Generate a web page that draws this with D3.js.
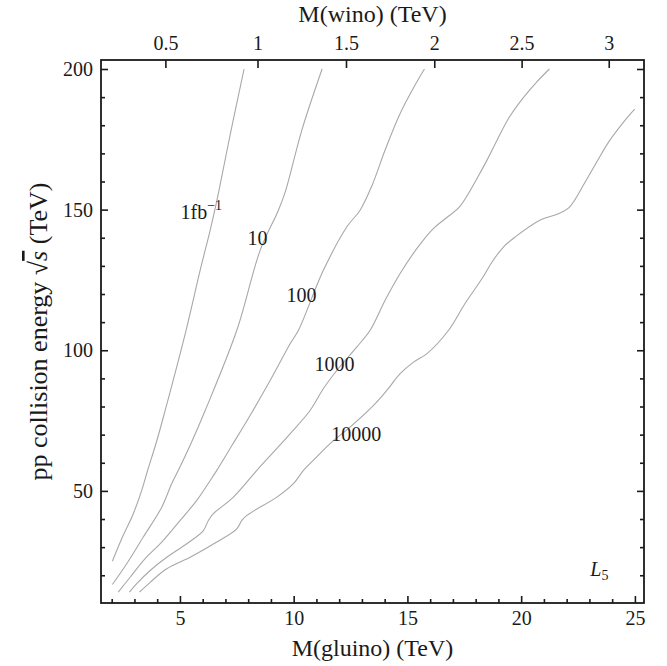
<!DOCTYPE html>
<html>
<head>
<meta charset="utf-8">
<script src="https://cdn.jsdelivr.net/npm/d3@7"></script>
<style>
  body { margin: 0; background: #fff; }
  svg text { font-family: "Liberation Serif", "Times New Roman", serif; fill: #1a1a1a; }
</style>
</head>
<body>
<div id="chart"></div>
<script>

// contour curves: [M(gluino) TeV, sqrt(s) TeV]
const lumi1 = [[2.03,25.0],[2.44,33.0],[2.95,41.9],[3.32,50.2],[3.58,57.3],[3.99,68.0],[4.35,78.6],
    [5.27,107.1],[5.89,128.5],[6.33,142.7],[6.69,155.8],[7.25,178.3],[7.82,200]];
const lumi10 = [[2.03,16.7],[2.66,24.1],[3.39,33.6],[4.20,44.2],[4.64,52.6],[4.93,57.3],[5.45,66.2],
    [6.11,78.6],[7.50,107.1],[8.53,135.6],[9.33,149.8],[9.63,156.3],[10.36,178.3],[11.25,200]];
const lumi100 = [[2.29,14.0],[2.81,19.3],[3.47,25.9],[4.20,31.8],[5.01,39.5],[5.74,46.6],[6.33,53.7],
    [6.62,57.3],[7.29,66.2],[8.09,76.9],[8.97,89.3],[9.85,102.4],[10.21,107.1],[11.31,128.5],
    [12.34,143.9],[12.92,149.8],[13.45,158.7],[14.02,171.2],[14.68,184.2],[15.42,195.5],[15.75,200]];
const lumi1000 = [[2.78,14.0],[3.10,17.0],[3.69,21.7],[4.42,26.4],[5.30,31.2],[6.03,35.9],[6.25,39.5],
    [6.47,41.9],[7.35,47.8],[8.38,57.3],[9.10,63.7],[9.85,70.4],[10.72,78.6],[11.31,86.4],[11.90,92.9],
    [12.78,101.2],[13.36,107.1],[14.02,117.8],[14.68,127.3],[15.42,136.2],[16.15,143.3],[16.59,146.3],
    [17.29,151.0],[17.69,155.8],[18.06,161.1],[18.50,167.6],[18.94,174.7],[19.45,182.5],[19.96,188.4],
    [20.70,195.5],[21.24,200]];
const lumi10000 = [[3.22,14.0],[3.69,17.5],[4.42,22.3],[5.45,26.4],[6.62,31.8],[7.50,36.5],[7.72,39.5],
    [7.94,41.3],[9.26,47.8],[9.99,52.6],[10.43,57.3],[10.87,60.9],[11.60,66.8],[12.48,72.7],[13.51,80.4],
    [14.10,85.8],[14.68,91.7],[15.27,95.8],[15.86,98.8],[16.81,107.1],[17.54,116.7],[18.28,125.5],
    [18.72,131.4],[19.23,136.8],[19.74,140.3],[20.84,146.3],[21.58,148.4],[22.09,150.6],[22.82,159.9],
    [23.41,168.2],[23.85,174.1],[24.51,181.2],[24.99,185.7]];

const curves = [lumi1, lumi10, lumi100, lumi1000, lumi10000];

// curve labels (centre in M(gluino), baseline in sqrt(s))
const labelText = ["1fb", "10", "100", "1000", "10000"];
const labelG = [5.94, 8.41, 10.34, 11.80, 12.75];
const labelS = [146.6, 137.4, 117.2, 92.5, 67.6];

// top axis: wino mass and the gluino mass it sits at
const winoTicks = [0.5, 1, 1.5, 2, 2.5, 3];
const winoAtGluino = [4.36, 8.41, 12.3, 16.18, 20.02, 23.85];

const gluinoMajor = [5, 10, 15, 20, 25];
const energyMajor = [50, 100, 150, 200];

const W = 667, H = 666;
const svg = d3.select("#chart").append("svg")
    .attr("width", W)
    .attr("height", H);

const x = d3.scaleLinear().domain([1.53, 25.4]).range([101, 644]);
const y = d3.scaleLinear().domain([10.14, 203.2]).range([603, 60]);

const gluinoMinor = d3.range(2, 26).filter(d => gluinoMajor.indexOf(d) < 0);
const energyMinor = d3.range(20, 201, 10).filter(d => energyMajor.indexOf(d) < 0);

function styleAxis(g) {
    g.select(".domain").remove();
    g.selectAll("line").attr("stroke", "#1a1a1a").attr("stroke-width", 1.6);
    g.selectAll("text").attr("font-size", 20).attr("fill", "#1a1a1a")
        .style("font-family", '"Liberation Serif", serif');
}

// bottom
svg.append("g").attr("transform", "translate(0,603)")
    .call(d3.axisBottom(x).tickValues(gluinoMinor).tickFormat("").tickSize(-4))
    .call(styleAxis);
svg.append("g").attr("transform", "translate(0,603)")
    .call(d3.axisBottom(x).tickValues(gluinoMajor).tickFormat(d3.format("d")).tickSize(-7).tickPadding(8))
    .call(styleAxis);

// left
svg.append("g").attr("transform", "translate(101,0)")
    .call(d3.axisLeft(y).tickValues(energyMinor).tickFormat("").tickSize(-4))
    .call(styleAxis);
svg.append("g").attr("transform", "translate(101,0)")
    .call(d3.axisLeft(y).tickValues(energyMajor).tickFormat(d3.format("d")).tickSize(-7).tickPadding(8))
    .call(styleAxis);

// right
svg.append("g").attr("transform", "translate(644,0)")
    .call(d3.axisRight(y).tickValues(energyMinor).tickFormat("").tickSize(-4))
    .call(styleAxis);
svg.append("g").attr("transform", "translate(644,0)")
    .call(d3.axisRight(y).tickValues(energyMajor).tickFormat("").tickSize(-7))
    .call(styleAxis);

// top (wino)
svg.append("g").attr("transform", "translate(0,60)")
    .call(d3.axisTop(x).tickValues(winoAtGluino)
        .tickFormat((d, i) => winoTicks[i]).tickSize(-8).tickPadding(10))
    .call(styleAxis);

// frame
svg.append("rect")
    .attr("x", x.range()[0]).attr("y", y.range()[1])
    .attr("width", x.range()[1] - x.range()[0])
    .attr("height", y.range()[0] - y.range()[1])
    .attr("fill", "none").attr("stroke", "#1a1a1a").attr("stroke-width", 1.8);

// curves
const line = d3.line().curve(d3.curveCatmullRom.alpha(0.5))
    .x(d => x(d[0])).y(d => y(d[1]));
svg.append("g").selectAll("path")
    .data(curves)
    .enter().append("path")
    .attr("d", line)
    .attr("fill", "none")
    .attr("stroke", "#a8a8a8")
    .attr("stroke-width", 1.1);

// curve labels
const lab = svg.append("g").selectAll("text")
    .data(labelText)
    .enter().append("text")
    .attr("x", (d, i) => x(labelG[i]))
    .attr("y", (d, i) => y(labelS[i]))
    .attr("text-anchor", "middle")
    .attr("font-size", 20);
lab.append("tspan").text(d => d);
lab.filter((d, i) => i === 0).append("tspan")
    .attr("dy", -9).attr("font-size", 14).text("\u22121");

// L5
const l5 = svg.append("text")
    .attr("x", x(23.44)).attr("y", y(19.9))
    .attr("text-anchor", "middle")
    .attr("font-size", 20);
l5.append("tspan").attr("font-style", "italic").text("L");
l5.append("tspan").attr("dy", 4).attr("font-size", 14).text("5");

// axis titles
svg.append("text")
    .attr("x", (x.range()[0] + x.range()[1]) / 2).attr("y", 656)
    .attr("text-anchor", "middle").attr("font-size", 24)
    .text("M(gluino) (TeV)");

svg.append("text")
    .attr("x", (x.range()[0] + x.range()[1]) / 2).attr("y", 22)
    .attr("text-anchor", "middle").attr("font-size", 24)
    .text("M(wino) (TeV)");

const yt = svg.append("text")
    .attr("transform", "translate(47," + ((y.range()[0] + y.range()[1]) / 2) + ") rotate(-90)")
    .attr("text-anchor", "middle").attr("font-size", 26);
yt.append("tspan").text("pp collision energy \u221A");
yt.append("tspan").attr("font-style", "italic").style("text-decoration", "overline").text("s");
yt.append("tspan").text(" (TeV)");

</script>
</body>
</html>
